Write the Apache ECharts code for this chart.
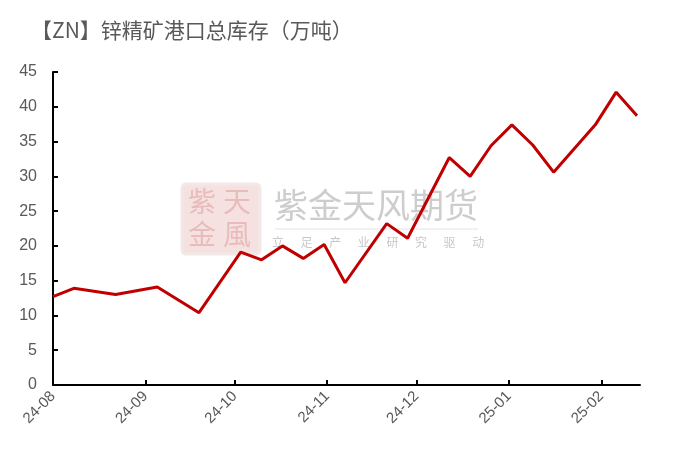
<!DOCTYPE html>
<html>
<head>
<meta charset="utf-8">
<script src="https://cdn.jsdelivr.net/npm/echarts@6/dist/echarts.min.js"></script>
<style>
html,body{margin:0;padding:0;background:#fff;}
#chart{width:675px;height:459px;}
</style>
</head>
<body>
<div id="chart"></div>
<script>
// ---- data ----
var dates = ['2024-08-01','2024-08-08','2024-08-22','2024-09-05','2024-09-19','2024-10-03','2024-10-10','2024-10-17','2024-10-24','2024-10-31','2024-11-07','2024-11-21','2024-11-28','2024-12-12','2024-12-19','2024-12-26','2025-01-02','2025-01-09','2025-01-16','2025-01-30','2025-02-06','2025-02-13'];
var values = [12.7,13.9,13.0,14.1,10.4,19.1,18.0,20.0,18.2,20.2,14.7,23.2,21.1,32.7,30.0,34.4,37.4,34.5,30.6,37.4,42.1,38.7];
var monthTicks = ['2024-08-01','2024-09-01','2024-10-01','2024-11-01','2024-12-01','2025-01-01','2025-02-01'];
var axisStart = '2024-08-01';
var axisEnd = '2025-02-14';
var title = '【ZN】锌精矿港口总库存（万吨）';

function toTs(s){var p=s.split('-');return new Date(+p[0],+p[1]-1,+p[2]).getTime();}
function pad(n){return (n<10?'0':'')+n;}

var seriesData = dates.map(function(d,i){return [toTs(d), values[i]];});
var tickTs = monthTicks.map(toTs);

var chart = echarts.init(document.getElementById('chart'));
var cjk = '"Noto Sans CJK SC", sans-serif';

var subChars = ['立','足','产','业','研','究','驱','动'];
var graphics = [
  {type:'rect', shape:{x:182,y:184,width:78,height:70,r:4}, style:{fill:'#f6e1e1',stroke:'#f3e8e8',lineWidth:3}, z:0, silent:true},
  {type:'text', x:188, y:187, style:{text:'紫', font:'28px ' + cjk, fill:'#e9bcbc'}, z:1, silent:true},
  {type:'text', x:223, y:187, style:{text:'天', font:'28px ' + cjk, fill:'#e9bcbc'}, z:1, silent:true},
  {type:'text', x:188, y:220, style:{text:'金', font:'28px ' + cjk, fill:'#e9bcbc'}, z:1, silent:true},
  {type:'text', x:223, y:220, style:{text:'風', font:'28px ' + cjk, fill:'#e9bcbc'}, z:1, silent:true},
  {type:'text', x:274, y:188, style:{text:'紫金天风期货', font:'34px ' + cjk, fill:'#cdcdcd'}, z:1, silent:true},
  {type:'line', shape:{x1:275,y1:229,x2:478,y2:229}, style:{stroke:'#e4e4e4',lineWidth:1}, z:1, silent:true}
];
subChars.forEach(function(c,i){
  graphics.push({type:'text', x:272 + i*28.6, y:236, style:{text:c, font:'12px ' + cjk, fill:'#c8c8c8'}, z:1, silent:true});
});
graphics.push({type:'text', x:31, y:20, style:{text:title, font:'21px ' + cjk, fill:'#595959'}, z:5});

chart.setOption({
  animation:false,
  backgroundColor:'#fff',
  graphic: graphics,
  grid:{left:53, right:35, top:72, bottom:74, containLabel:false},
  xAxis:{
    type:'value',
    min: toTs(axisStart),
    max: toTs(axisEnd),
    axisLine:{show:true, lineStyle:{color:'#000', width:2}},
    axisTick:{show:true, inside:true, length:5, customValues: tickTs, lineStyle:{color:'#000', width:2}},
    axisLabel:{
      customValues: tickTs,
      rotate:45, margin:9, color:'#595959', fontSize:15, fontFamily:'Liberation Sans, sans-serif',
      formatter:function(v){var d=new Date(v);return String(d.getFullYear()).slice(2)+'-'+pad(d.getMonth()+1);}
    },
    splitLine:{show:false}
  },
  yAxis:{
    type:'value', min:0, max:45, interval:5,
    axisLine:{show:true, lineStyle:{color:'#000', width:2}},
    axisTick:{show:true, inside:true, length:5, lineStyle:{color:'#000', width:2}},
    axisLabel:{color:'#595959', fontSize:16, margin:16, fontFamily:'Liberation Sans, sans-serif'},
    splitLine:{show:false}
  },
  series:[{
    type:'line',
    data: seriesData,
    showSymbol:false,
    symbol:'none',
    lineStyle:{color:'#C00000', width:3},
    z:10
  }]
});
</script>
</body>
</html>
